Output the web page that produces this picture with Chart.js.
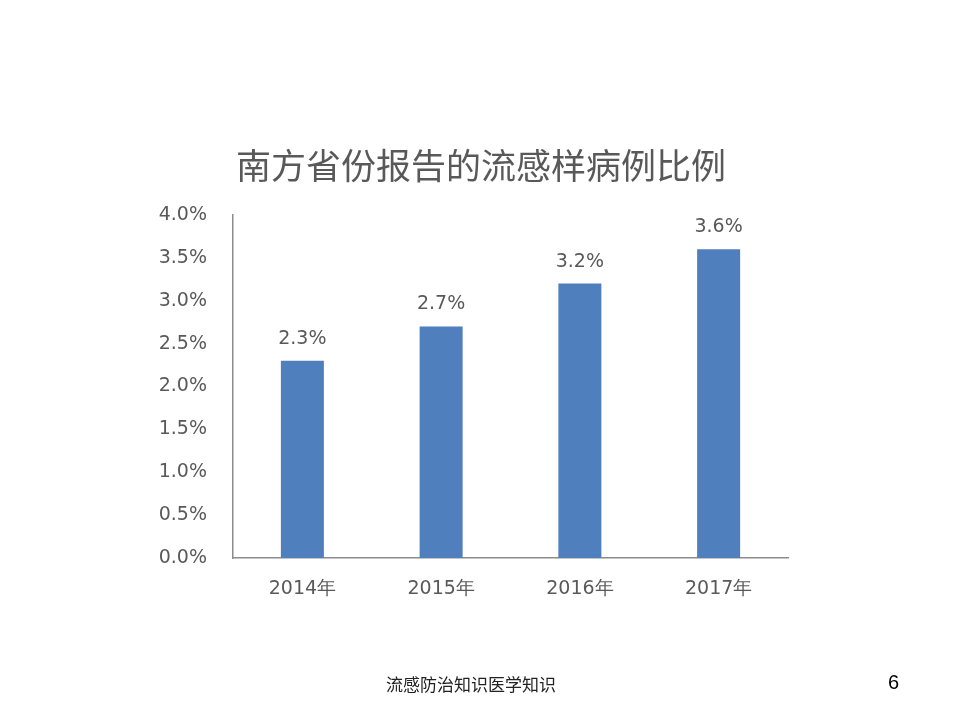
<!DOCTYPE html>
<html>
<head>
<meta charset="utf-8">
<script src="https://cdn.jsdelivr.net/npm/chart.js@4.4.1/dist/chart.umd.min.js"></script>
<style>
  html, body { margin: 0; padding: 0; background: #fff; }
  #wrap { position: relative; width: 960px; height: 720px; }
  #footer { position: absolute; left: 386px; top: 671px; font: 17px "Noto Sans CJK SC"; color: #222; }
  #page { position: absolute; left: 888px; top: 671px; font: 20px "Liberation Sans"; color: #000; }
</style>
</head>
<body>
<div id="wrap">
  <canvas id="chart" width="960" height="720"></canvas>
  <div id="footer">流感防治知识医学知识</div>
  <div id="page">6</div>
</div>
<script>
// chart values (percent)
const title = '南方省份报告的流感样病例比例';
const years = ['2014年', '2015年', '2016年', '2017年'];
const ratios = [2.3, 2.7, 3.2, 3.6];
const yTicks = [0, 0.5, 1.0, 1.5, 2.0, 2.5, 3.0, 3.5, 4.0];

const textGray = '#595959';
const axisGray = '#8c8c8c';

// title centred on the page, not on the padded layout box
const pageTitle = {
    id: 'pageTitle',
    afterDraw: (chart) => {
        const { ctx } = chart;
        ctx.save();
        ctx.font = '35px "Noto Sans CJK SC"';
        ctx.fillStyle = textGray;
        ctx.textAlign = 'center';
        ctx.textBaseline = 'middle';
        ctx.fillText(title, 481, 166);
        ctx.restore();
    }
};

// value labels above each bar, placed from the bar elements
const barLabels = {
    id: 'barLabels',
    afterDatasetsDraw: (chart) => {
        const { ctx } = chart;
        const bars = chart.getDatasetMeta(0).data;
        ctx.save();
        ctx.font = '19px "DejaVu Sans"';
        ctx.fillStyle = textGray;
        ctx.textAlign = 'center';
        ctx.textBaseline = 'alphabetic';
        bars.forEach((bar, i) => {
            ctx.fillText(ratios[i].toFixed(1) + '%', bar.x, bar.y - 17);
        });
        ctx.restore();
    }
};

new Chart(document.getElementById('chart'), {
    type: 'bar',
    data: {
        labels: years,
        datasets: [{
            data: ratios,
            backgroundColor: '#4f7fbd',
            borderWidth: 0,
            categoryPercentage: 1,
            barPercentage: 0.31
        }]
    },
    options: {
        responsive: false,
        animation: false,
        layout: { padding: { top: 215, left: 0, right: 172, bottom: 102 } },
        plugins: {
            legend: { display: false },
            tooltip: { enabled: false },
            title: { display: false }
        },
        scales: {
            x: {
                grid: { display: false, drawTicks: false },
                border: { display: true, color: axisGray, width: 1.5 },
                ticks: { color: textGray, font: { family: '"DejaVu Sans"', size: 19 }, padding: 20 },
                afterFit: (scale) => { scale.height = 60; }
            },
            y: {
                min: 0,
                max: 4,
                grid: { display: false, drawTicks: false },
                border: { display: true, color: axisGray, width: 1.5 },
                afterBuildTicks: (scale) => { scale.ticks = yTicks.map(v => ({ value: v })); },
                ticks: {
                    color: textGray,
                    font: { family: '"DejaVu Sans"', size: 19 },
                    padding: 26,
                    callback: (v) => v.toFixed(1) + '%'
                },
                afterFit: (scale) => { scale.width = 233; }
            }
        }
    },
    plugins: [barLabels, pageTitle]
});
</script>
</body>
</html>
